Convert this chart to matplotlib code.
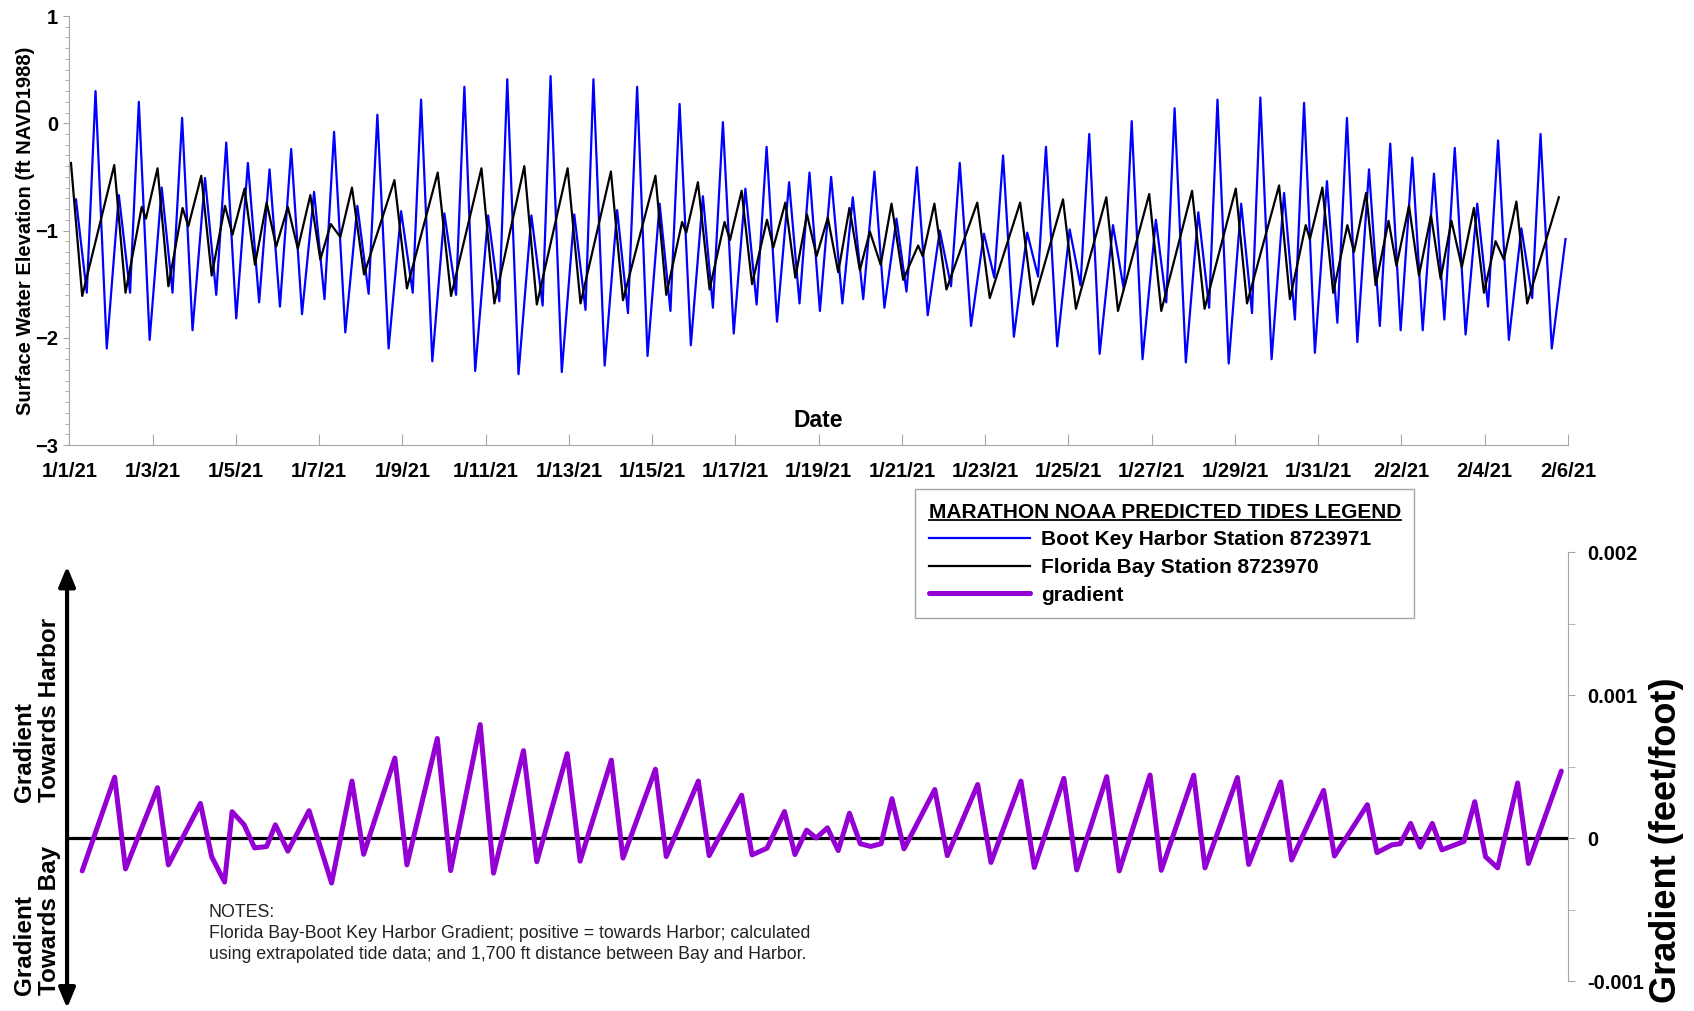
import numpy as np
import pandas as pd
import matplotlib
matplotlib.use("Agg")
import matplotlib.pyplot as plt
from matplotlib.lines import Line2D
from matplotlib.ticker import MultipleLocator
from matplotlib.transforms import blended_transform_factory

plt.rcParams['font.family'] = ['Liberation Sans', 'DejaVu Sans']

start = pd.Timestamp('2021-01-01')

# Boot Key Harbor Station 8723971 (days after 1/1/21, ft NAVD1988)
harbor_days = [0.16, 0.42, 0.63, 0.90, 1.19, 1.46, 1.67, 1.93, 2.22, 2.48, 2.71, 2.96,
               3.26, 3.53, 3.77, 4.01, 4.29, 4.56, 4.81, 5.06, 5.33, 5.59, 5.88, 6.13,
               6.36, 6.63, 6.92, 7.19, 7.40, 7.67, 7.97, 8.25, 8.45, 8.72, 9.01, 9.29,
               9.49, 9.75, 10.06, 10.33, 10.52, 10.79, 11.10, 11.37, 11.56, 11.83, 12.13, 12.40,
               12.59, 12.86, 13.16, 13.42, 13.64, 13.89, 14.18, 14.44, 14.66, 14.93, 15.22, 15.46,
               15.70, 15.96, 16.24, 16.51, 16.75, 17.00, 17.29, 17.54, 17.78, 18.03, 18.30, 18.57,
               18.82, 19.07, 19.34, 19.58, 19.87, 20.11, 20.36, 20.62, 20.91, 21.18, 21.39, 21.66,
               21.97, 22.22, 22.43, 22.69, 23.01, 23.27, 23.46, 23.73, 24.03, 24.29, 24.50, 24.75,
               25.07, 25.33, 25.52, 25.78, 26.10, 26.35, 26.55, 26.82, 27.12, 27.38, 27.58, 27.85,
               28.15, 28.41, 28.61, 28.88, 29.18, 29.44, 29.66, 29.92, 30.21, 30.46, 30.69, 30.94,
               31.22, 31.48, 31.73, 31.98, 32.26, 32.51, 32.78, 33.03, 33.28, 33.54, 33.82, 34.08,
               34.32, 34.58, 34.88, 35.14, 35.34, 35.61, 35.94]
harbor_elev = [-0.71, -1.58, 0.30, -2.10, -0.67, -1.58, 0.20, -2.02, -0.60, -1.58, 0.05, -1.93,
               -0.51, -1.60, -0.18, -1.82, -0.37, -1.67, -0.43, -1.71, -0.24, -1.78, -0.64, -1.64,
               -0.08, -1.95, -0.77, -1.59, 0.08, -2.10, -0.82, -1.58, 0.22, -2.22, -0.84, -1.60,
               0.34, -2.31, -0.86, -1.66, 0.41, -2.34, -0.86, -1.70, 0.44, -2.32, -0.85, -1.74,
               0.41, -2.26, -0.81, -1.77, 0.34, -2.17, -0.75, -1.75, 0.18, -2.07, -0.68, -1.72,
               0.01, -1.96, -0.61, -1.69, -0.22, -1.85, -0.55, -1.68, -0.46, -1.75, -0.50, -1.68,
               -0.69, -1.64, -0.45, -1.72, -0.89, -1.57, -0.41, -1.79, -1.00, -1.52, -0.37, -1.89,
               -1.03, -1.44, -0.30, -1.99, -1.02, -1.43, -0.22, -2.08, -0.99, -1.51, -0.10, -2.15,
               -0.95, -1.55, 0.02, -2.20, -0.90, -1.67, 0.14, -2.23, -0.83, -1.72, 0.22, -2.24,
               -0.75, -1.77, 0.24, -2.20, -0.65, -1.83, 0.19, -2.14, -0.54, -1.86, 0.05, -2.04,
               -0.43, -1.89, -0.19, -1.93, -0.32, -1.93, -0.47, -1.83, -0.23, -1.97, -0.75, -1.71,
               -0.16, -2.02, -0.98, -1.63, -0.10, -2.10, -1.08]

# Florida Bay Station 8723970
bay_days = [0.04, 0.31, 1.08, 1.35, 1.74, 1.84, 2.12, 2.38, 2.72, 2.86, 3.17, 3.42,
            3.74, 3.92, 4.21, 4.46, 4.74, 4.97, 5.25, 5.49, 5.79, 6.03, 6.28, 6.51,
            6.79, 7.08, 7.81, 8.11, 8.85, 9.17, 9.90, 10.21, 10.93, 11.23, 11.97, 12.28,
            13.01, 13.30, 14.08, 14.34, 14.72, 14.82, 15.10, 15.38, 15.74, 15.87, 16.15, 16.40,
            16.76, 16.91, 17.20, 17.44, 17.72, 17.95, 18.22, 18.47, 18.74, 18.99, 19.23, 19.49,
            19.75, 20.03, 20.39, 20.50, 20.78, 21.07, 21.81, 22.11, 22.84, 23.15, 23.87, 24.18,
            24.91, 25.19, 25.94, 26.23, 26.97, 27.27, 28.02, 28.29, 29.06, 29.32, 29.70, 29.80,
            30.10, 30.36, 30.70, 30.86, 31.15, 31.38, 31.69, 31.88, 32.18, 32.42, 32.71, 32.94,
            33.20, 33.45, 33.74, 33.98, 34.26, 34.46, 34.76, 35.02, 35.78]
bay_elev = [-0.37, -1.61, -0.39, -1.58, -0.78, -0.89, -0.42, -1.52, -0.79, -0.96, -0.49, -1.42,
            -0.77, -1.04, -0.61, -1.32, -0.74, -1.15, -0.78, -1.17, -0.67, -1.27, -0.94, -1.06,
            -0.60, -1.41, -0.53, -1.54, -0.46, -1.61, -0.42, -1.68, -0.40, -1.69, -0.42, -1.68,
            -0.45, -1.65, -0.49, -1.60, -0.92, -1.02, -0.55, -1.55, -0.92, -1.09, -0.63, -1.50,
            -0.90, -1.16, -0.74, -1.44, -0.85, -1.24, -0.88, -1.39, -0.79, -1.37, -1.01, -1.32,
            -0.75, -1.46, -1.14, -1.24, -0.75, -1.55, -0.74, -1.63, -0.74, -1.69, -0.71, -1.73,
            -0.69, -1.75, -0.66, -1.75, -0.63, -1.73, -0.61, -1.68, -0.58, -1.64, -0.95, -1.08,
            -0.60, -1.58, -0.95, -1.20, -0.65, -1.51, -0.91, -1.33, -0.77, -1.42, -0.86, -1.45,
            -0.91, -1.34, -0.79, -1.58, -1.10, -1.27, -0.73, -1.68, -0.69]

# Florida Bay - Boot Key Harbor gradient (feet/foot)
grad_days = [0.31, 1.09, 1.35, 2.12, 2.38, 3.15, 3.42, 3.73, 3.91, 4.20, 4.45, 4.74,
             4.95, 5.25, 5.76, 6.30, 6.79, 7.07, 7.82, 8.11, 8.84, 9.16, 9.87, 10.19,
             10.91, 11.23, 11.96, 12.27, 13.02, 13.30, 14.08, 14.34, 15.11, 15.37, 16.15, 16.40,
             16.76, 17.18, 17.43, 17.71, 17.94, 18.21, 18.47, 18.74, 19.00, 19.25, 19.50, 19.76,
             20.05, 20.79, 21.09, 21.82, 22.14, 22.86, 23.18, 23.89, 24.20, 24.92, 25.22, 25.96,
             26.23, 27.01, 27.28, 28.06, 28.33, 29.10, 29.36, 30.13, 30.39, 31.18, 31.41, 31.77,
             31.97, 32.22, 32.45, 32.74, 32.97, 33.50, 33.76, 34.02, 34.31, 34.79, 35.05, 35.84]
grad_vals = [-0.00023, 0.000425, -0.000216, 0.000352, -0.000188, 0.000242, -0.000131, -0.000308,
             0.000184, 0.000092, -0.000069, -0.00006, 0.000092, -0.000092, 0.000191, -0.000315,
             0.000398, -0.000114, 0.000559, -0.000188, 0.000696, -0.000228, 0.000793, -0.000246,
             0.000611, -0.000166, 0.00059, -0.000162, 0.000545, -0.00014, 0.000481, -0.00013,
             0.000398, -0.000123, 0.000299, -0.000118, -0.000071, 0.000185, -0.000116, 0.000055,
             0.0, 0.000071, -0.000088, 0.000173, -0.00004, -0.000059, -0.00004, 0.000275,
             -0.000076, 0.000339, -0.000123, 0.000374, -0.000171, 0.000398, -0.000206, 0.000417,
             -0.000223, 0.000429, -0.00023, 0.00044, -0.000226, 0.000439, -0.000209, 0.000423,
             -0.000185, 0.000392, -0.000154, 0.000333, -0.000126, 0.000233, -0.000102, -0.000048,
             -0.00004, 0.000102, -0.000064, 0.000102, -0.000083, -0.000024, 0.000254, -0.000131,
             -0.000209, 0.000385, -0.000178, 0.000468]

tick_dates = pd.date_range('2021-01-01', '2021-02-06', freq='2D')
tick_labels = [f"{d.month}/{d.day}/{d.year % 100}" for d in tick_dates]

harbor_t = start + pd.to_timedelta(harbor_days, unit='D')
bay_t = start + pd.to_timedelta(bay_days, unit='D')
grad_t = start + pd.to_timedelta(grad_days, unit='D')
xmin, xmax = start, start + pd.Timedelta(days=36)

W, H = 1694, 1011
fig = plt.figure(figsize=(W / 100, H / 100), dpi=100)
gray = '#a6a6a6'

# ---- top: tide elevations ----
ax = fig.add_axes([69.3 / W, 1 - 445 / H, (1568 - 69.3) / W, (445 - 16) / H])
l1, = ax.plot(harbor_t, harbor_elev, color='#0000ff', lw=1.6)
l2, = ax.plot(bay_t, bay_elev, color='black', lw=1.6)
ax.set_xlim(xmin, xmax)
ax.set_ylim(-3, 1)
ax.set_xticks(tick_dates)
ax.set_xticklabels(tick_labels)
ax.set_yticks([-3, -2, -1, 0, 1])
ax.yaxis.set_minor_locator(MultipleLocator(0.1))
for s in ['top', 'right']:
    ax.spines[s].set_visible(False)
for s in ['left', 'bottom']:
    ax.spines[s].set_color(gray)
ax.tick_params(axis='x', direction='in', length=8, color=gray, pad=12, labelsize=14.5)
ax.tick_params(axis='y', which='major', direction='out', length=4, color=gray, pad=4, labelsize=14.5)
ax.tick_params(axis='y', which='minor', direction='out', length=3, color=gray)
for lab in ax.get_xticklabels() + ax.get_yticklabels():
    lab.set_fontweight('bold')
ax.set_ylabel('Surface Water Elevation (ft NAVD1988)', fontsize=14.5, fontweight='bold',
              va='center')
ax.yaxis.set_label_coords(-0.0295, 0.5)
ax.text(0.5, 0.057, 'Date', transform=ax.transAxes, ha='center', va='center',
        fontsize=16.5, fontweight='bold')

# ---- bottom: gradient ----
ax2 = fig.add_axes([69.3 / W, 1 - 1009.6 / H, (1568 - 69.3) / W, (1009.6 - 552) / H])
ax2.axhline(0, color='black', lw=2.3, zorder=2)
l3, = ax2.plot(grad_t, grad_vals, color='#9400d3', lw=3.6, solid_joinstyle='round',
               solid_capstyle='round', zorder=3)
ax2.set_xlim(xmin, xmax)
ax2.set_ylim(-0.0012, 0.002)
ax2.set_xticks([])
for s in ['top', 'bottom', 'left']:
    ax2.spines[s].set_visible(False)
ax2.spines['right'].set_color(gray)
ax2.spines['right'].set_bounds(-0.001, 0.002)
ax2.yaxis.tick_right()
ax2.set_yticks([-0.001, 0, 0.001, 0.002])
ax2.set_yticklabels(['-0.001', '0', '0.001', '0.002'])
ax2.yaxis.set_minor_locator(MultipleLocator(0.0005))
ax2.tick_params(axis='y', which='both', direction='out', length=5, color=gray, pad=9, labelsize=14.5)
for lab in ax2.get_yticklabels():
    lab.set_fontweight('bold')

trans = blended_transform_factory(ax2.transAxes, ax2.transData)
ax2.annotate('', xy=(-0.0015, 0.0019), xytext=(-0.0015, -0.00119), xycoords=trans,
             textcoords=trans, annotation_clip=False,
             arrowprops=dict(arrowstyle='<|-|>,head_length=0.6,head_width=0.25',
                             lw=3, color='black', mutation_scale=20, shrinkA=0, shrinkB=0))

fig.text(37 / W, 1 - 802 / H, 'Gradient\nTowards Harbor', rotation=90, ha='center',
         va='bottom', multialignment='left', fontsize=17.5, fontweight='bold', linespacing=1.15)
fig.text(37 / W, 1 - 995 / H, 'Gradient\nTowards Bay', rotation=90, ha='center',
         va='bottom', multialignment='left', fontsize=17.5, fontweight='bold', linespacing=1.15)
fig.text(1666 / W, 1 - 840 / H, 'Gradient (feet/foot)', rotation=90, ha='center',
         va='center', fontsize=26, fontweight='bold')
fig.text(208.5 / W, 1 - 904 / H,
         'NOTES:\nFlorida Bay-Boot Key Harbor Gradient; positive = towards Harbor; calculated\n'
         'using extrapolated tide data; and 1,700 ft distance between Bay and Harbor.',
         ha='left', va='top', fontsize=12.8, color='#222222', linespacing=1.3)

# ---- legend ----
leg = fig.legend([l1, l2, l3],
                 ['Boot Key Harbor Station 8723971', 'Florida Bay Station 8723970', 'gradient'],
                 loc='upper left', bbox_to_anchor=(915 / W, 1 - 489 / H), borderaxespad=0,
                 title='MARATHON NOAA PREDICTED TIDES LEGEND', alignment='left',
                 prop={'size': 15, 'weight': 'bold'},
                 title_fontproperties={'size': 15, 'weight': 'bold'},
                 frameon=True, fancybox=False, edgecolor=gray, framealpha=1,
                 handlelength=4.85, handletextpad=0.55, labelspacing=0.42, borderpad=0.65)
leg.get_frame().set_linewidth(1.0)

# underline the legend title
fig.canvas.draw()
tb = leg.get_title().get_window_extent().transformed(fig.transFigure.inverted())
fig.add_artist(Line2D([tb.x0, tb.x1], [tb.y0 + 0.0012, tb.y0 + 0.0012], color='black',
                      lw=1.3, transform=fig.transFigure, zorder=10))

fig.savefig('out.png', dpi=100)
